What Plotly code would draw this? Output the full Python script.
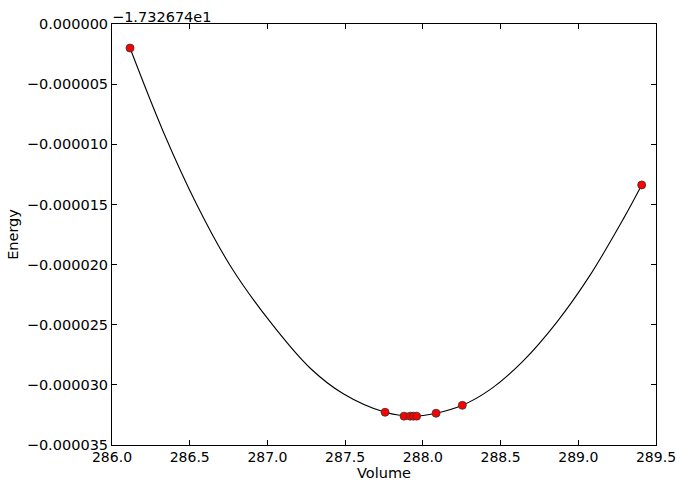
import plotly.graph_objects as go

# Energy values are offsets from -17.32674 (the axis offset)
vol_pts = [286.116, 287.757, 287.879, 287.918, 287.939, 287.960, 288.085, 288.254, 289.408]
e_pts = [-0.0000020, -0.00003228, -0.0000326, -0.0000326, -0.0000326, -0.0000326, -0.00003236, -0.0000317, -0.00001338]

# Fitted curve
vol_fit = [286.116, 286.330, 286.545, 286.759, 287.017, 287.274, 287.488, 287.757, 287.930,
           288.085, 288.254, 288.432, 288.646, 288.861, 289.075, 289.290, 289.408]
e_fit = [-0.0000020, -0.00000895, -0.0000150, -0.00002005, -0.00002475, -0.0000286, -0.00003074,
         -0.00003228, -0.0000326, -0.00003236, -0.0000317, -0.0000304, -0.0000280, -0.0000248,
         -0.0000209, -0.0000162, -0.00001338]

y_ticks = [0, -0.000005, -0.00001, -0.000015, -0.00002, -0.000025, -0.00003, -0.000035]
y_labels = ["0.000000", "\u22120.000005", "\u22120.000010", "\u22120.000015", "\u22120.000020",
            "\u22120.000025", "\u22120.000030", "\u22120.000035"]
x_ticks = [286.0, 286.5, 287.0, 287.5, 288.0, 288.5, 289.0, 289.5]
x_labels = ["286.0", "286.5", "287.0", "287.5", "288.0", "288.5", "289.0", "289.5"]
offset_text = "\u22121.732674e1"

fig = go.Figure()
fig.add_trace(go.Scatter(x=vol_fit, y=e_fit, mode="lines",
                         line=dict(color="black", width=1.1, shape="spline", smoothing=1.0),
                         hoverinfo="skip"))
fig.add_trace(go.Scatter(x=vol_pts, y=e_pts, mode="markers",
                         marker=dict(color="red", size=8, line=dict(color="#333333", width=0.8))))

font = dict(family="DejaVu Sans", size=14.5, color="black")
xfont = dict(family="DejaVu Sans", size=14, color="black")
fig.update_layout(
    width=678, height=483,
    margin=dict(l=112, r=22, t=24, b=38),
    paper_bgcolor="white", plot_bgcolor="white",
    showlegend=False,
    font=font,
    xaxis=dict(range=[286.0, 289.5], tickvals=x_ticks, ticktext=x_labels, ticks="inside", ticklen=5,
               tickcolor="black", showgrid=False, zeroline=False, showline=True, linecolor="black",
               linewidth=1, mirror="allticks", automargin=False, ticklabelstandoff=-1,
               tickfont=xfont,
               title=dict(text="Volume", font=font, standoff=3)),
    yaxis=dict(range=[-0.000035, 0.0], tickvals=y_ticks, ticktext=y_labels, ticks="inside", ticklen=5,
               tickcolor="black", showgrid=False, zeroline=False, showline=True, linecolor="black",
               linewidth=1, mirror="allticks", automargin=False,
               title=dict(text="Energy", font=font, standoff=4)),
    annotations=[dict(text=offset_text, xref="paper", yref="paper", x=0, y=1, xanchor="left",
                      yanchor="bottom", showarrow=False, font=font, yshift=-3, xshift=-2)],
)

fig.write_html("out.html", config={"displayModeBar": False},
               post_script="document.body.style.margin='0';document.body.style.overflow='hidden';")
